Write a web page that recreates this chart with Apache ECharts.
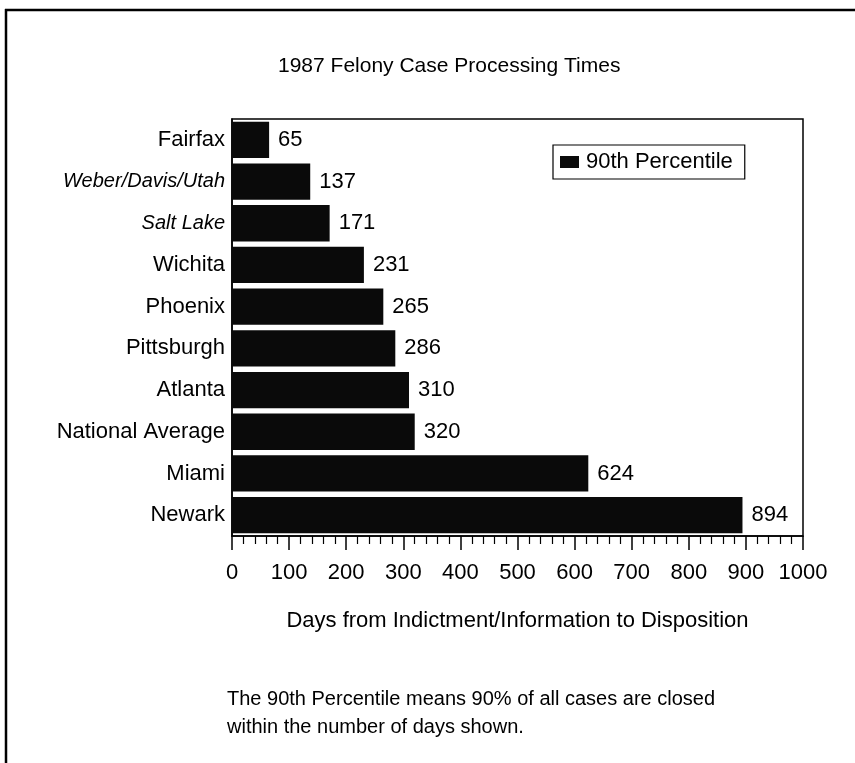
<!DOCTYPE html>
<html>
<head>
<meta charset="utf-8">
<script src="https://cdn.jsdelivr.net/npm/echarts@6/dist/echarts.min.js"></script>
<style>
html,body{margin:0;padding:0;background:#fff;}
#chart{width:855px;height:763px;}
</style>
</head>
<body>
<div id="chart"></div>
<script>
const categories = ['Fairfax','Weber/Davis/Utah','Salt Lake','Wichita','Phoenix','Pittsburgh','Atlanta','National Average','Miami','Newark'];
const values = [65,137,171,231,265,286,310,320,624,894];
const seriesName = '90th Percentile';
const xTickLabels = ['0','100','200','300','400','500','600','700','800','900','1000'];
const titleText = '1987 Felony Case Processing Times';
const axisTitle = 'Days from Indictment/Information to Disposition';
const noteLines = ['The 90th Percentile means 90% of all cases are closed','within the number of days shown.'];

const FONT = '"Liberation Sans", Arial, sans-serif';
const italicCats = new Set(['Weber/Davis/Utah','Salt Lake']);

const chart = echarts.init(document.getElementById('chart'), null, {renderer:'canvas'});
chart.setOption({
  backgroundColor:'#fff',
  animation:false,
  textStyle:{fontFamily:FONT, color:'#000'},
  title:{
    text:titleText, left:273, top:51,
    textStyle:{fontFamily:FONT, fontSize:21, fontWeight:'normal', color:'#000'}
  },
  legend:{
    data:[seriesName], left:553, top:145,
    orient:'vertical',
    borderColor:'#000', borderWidth:1.2,
    padding:[6,12,6,7],
    itemWidth:19, itemHeight:12, itemGap:0,
    icon:'rect',
    textStyle:{fontFamily:FONT, fontSize:22, color:'#000', padding:[0,0,0,2]}
  },
  grid:{
    left:232, right:52, top:119, bottom:227,
    show:true, borderColor:'#000', borderWidth:1.5, backgroundColor:'transparent'
  },
  xAxis:{
    type:'value', min:0, max:1000, interval:100,
    name:axisTitle, nameLocation:'middle', nameGap:74,
    nameTextStyle:{fontFamily:FONT, fontSize:22, color:'#000'},
    axisLine:{show:true, lineStyle:{color:'#000', width:1.5}},
    axisTick:{show:true, length:14, lineStyle:{color:'#000', width:1.5}},
    minorTick:{show:true, splitNumber:5, length:8, lineStyle:{color:'#000', width:1.2}},
    splitLine:{show:false},
    axisLabel:{
      margin:26, fontFamily:FONT, fontSize:22, color:'#000',
      formatter:(v)=>{ const i = Math.round(v/100); return xTickLabels[i] !== undefined ? xTickLabels[i] : ''; }
    }
  },
  yAxis:{
    type:'category', data:categories, inverse:true,
    axisLine:{show:true, lineStyle:{color:'#000', width:1.5}},
    axisTick:{show:false},
    splitLine:{show:false},
    axisLabel:{
      margin:7, fontFamily:FONT, fontSize:22, color:'#000',
      formatter:(v)=> italicCats.has(v) ? '{it|'+v+'}' : v,
      rich:{it:{fontStyle:'italic', fontFamily:FONT, fontSize:20, color:'#000'}}
    }
  },
  series:[{
    name:seriesName, type:'bar', data:values,
    barCategoryGap:'13%',
    itemStyle:{color:'#0a0a0a'},
    label:{show:true, position:'right', distance:9, fontFamily:FONT, fontSize:22, color:'#000'}
  }],
  graphic:[
    {type:'line', shape:{x1:5, y1:10, x2:855, y2:10}, style:{stroke:'#000', lineWidth:2.5}},
    {type:'line', shape:{x1:6, y1:9, x2:6, y2:763}, style:{stroke:'#000', lineWidth:2.5}},
    {type:'text', left:227, top:685, style:{text:noteLines.join('\n'), font:'20px '+FONT, fill:'#000', lineHeight:28}}
  ]
});
</script>
</body>
</html>
